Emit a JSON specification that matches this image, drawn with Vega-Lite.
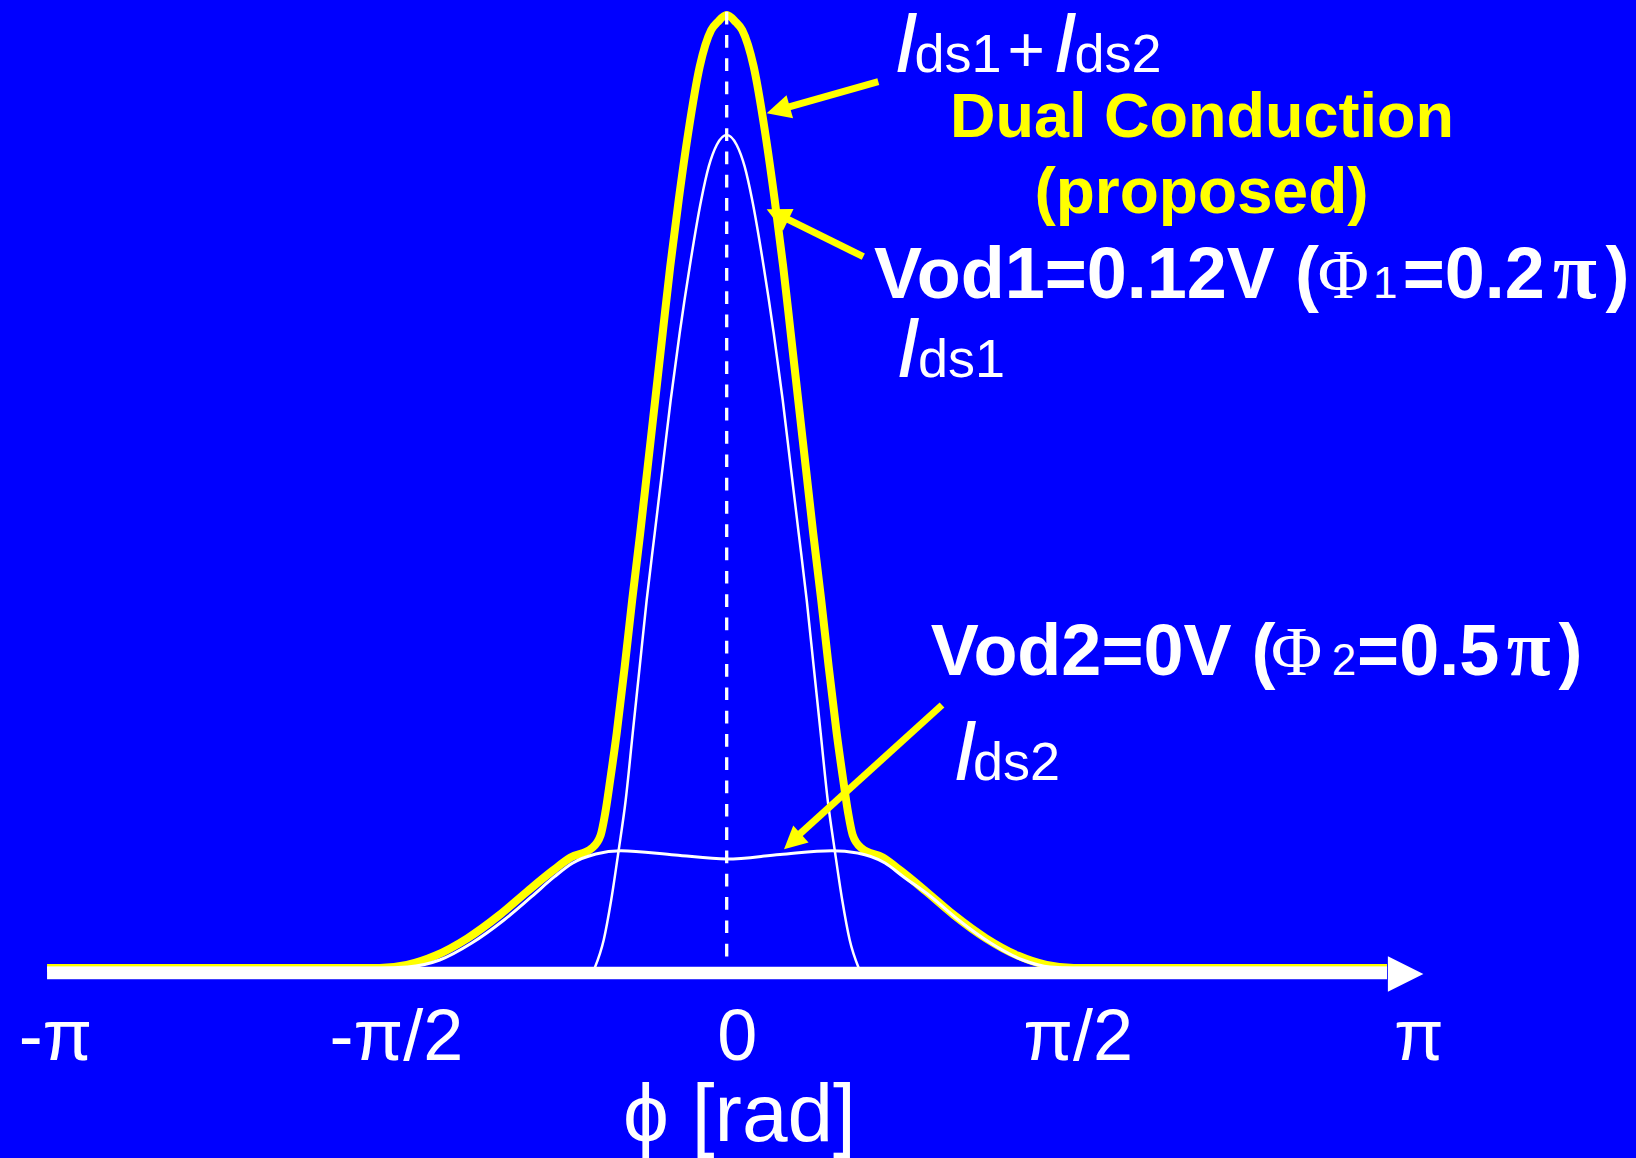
{
  "$schema": "https://vega.github.io/schema/vega-lite/v6.json",
  "width": 1636,
  "height": 1158,
  "autosize": {"type": "none"},
  "padding": 0,
  "background": "#0000ff",
  "config": {"view": {"stroke": null}},
  "datasets": {
    "curves": [
      {"series": "total", "x": -3.132, "y": 0},
      {"series": "total", "x": -1.6, "y": 0},
      {"series": "total", "x": -1.474, "y": 0.03},
      {"series": "total", "x": -1.344, "y": 0.122},
      {"series": "total", "x": -1.195, "y": 0.297},
      {"series": "total", "x": -1.047, "y": 0.53},
      {"series": "total", "x": -0.9205, "y": 0.763},
      {"series": "total", "x": -0.8039, "y": 0.97},
      {"series": "total", "x": -0.7194, "y": 1.105},
      {"series": "total", "x": -0.6221, "y": 1.197},
      {"series": "total", "x": -0.5806, "y": 1.33},
      {"series": "total", "x": -0.5599, "y": 1.547},
      {"series": "total", "x": -0.5369, "y": 1.88},
      {"series": "total", "x": -0.5069, "y": 2.347},
      {"series": "total", "x": -0.47, "y": 3.013},
      {"series": "total", "x": -0.4355, "y": 3.68},
      {"series": "total", "x": -0.3986, "y": 4.347},
      {"series": "total", "x": -0.3641, "y": 5.013},
      {"series": "total", "x": -0.3295, "y": 5.68},
      {"series": "total", "x": -0.2949, "y": 6.35},
      {"series": "total", "x": -0.2604, "y": 7.013},
      {"series": "total", "x": -0.2212, "y": 7.68},
      {"series": "total", "x": -0.1774, "y": 8.35},
      {"series": "total", "x": -0.1244, "y": 9.013},
      {"series": "total", "x": -0.0714, "y": 9.38},
      {"series": "total", "x": -0.0415, "y": 9.46},
      {"series": "total", "x": 0, "y": 9.53},
      {"series": "total", "x": 0.0415, "y": 9.46},
      {"series": "total", "x": 0.0714, "y": 9.38},
      {"series": "total", "x": 0.1244, "y": 9.013},
      {"series": "total", "x": 0.1774, "y": 8.35},
      {"series": "total", "x": 0.2212, "y": 7.68},
      {"series": "total", "x": 0.2604, "y": 7.013},
      {"series": "total", "x": 0.2949, "y": 6.35},
      {"series": "total", "x": 0.3295, "y": 5.68},
      {"series": "total", "x": 0.3641, "y": 5.013},
      {"series": "total", "x": 0.3986, "y": 4.347},
      {"series": "total", "x": 0.4355, "y": 3.68},
      {"series": "total", "x": 0.47, "y": 3.013},
      {"series": "total", "x": 0.5069, "y": 2.347},
      {"series": "total", "x": 0.5369, "y": 1.88},
      {"series": "total", "x": 0.5599, "y": 1.547},
      {"series": "total", "x": 0.5806, "y": 1.33},
      {"series": "total", "x": 0.6221, "y": 1.197},
      {"series": "total", "x": 0.7194, "y": 1.105},
      {"series": "total", "x": 0.8039, "y": 0.97},
      {"series": "total", "x": 0.9205, "y": 0.763},
      {"series": "total", "x": 1.047, "y": 0.53},
      {"series": "total", "x": 1.195, "y": 0.297},
      {"series": "total", "x": 1.344, "y": 0.122},
      {"series": "total", "x": 1.474, "y": 0.03},
      {"series": "total", "x": 1.6, "y": 0},
      {"series": "total", "x": 3.043, "y": 0},

      {"series": "ids1", "x": -0.6083, "y": 0},
      {"series": "ids1", "x": -0.5668, "y": 0.28},
      {"series": "ids1", "x": -0.5323, "y": 0.68},
      {"series": "ids1", "x": -0.4977, "y": 1.18},
      {"series": "ids1", "x": -0.4654, "y": 1.68},
      {"series": "ids1", "x": -0.4332, "y": 2.347},
      {"series": "ids1", "x": -0.4009, "y": 3.013},
      {"series": "ids1", "x": -0.3687, "y": 3.68},
      {"series": "ids1", "x": -0.3318, "y": 4.347},
      {"series": "ids1", "x": -0.2949, "y": 5.013},
      {"series": "ids1", "x": -0.2581, "y": 5.68},
      {"series": "ids1", "x": -0.2166, "y": 6.35},
      {"series": "ids1", "x": -0.1705, "y": 7.013},
      {"series": "ids1", "x": -0.1175, "y": 7.68},
      {"series": "ids1", "x": -0.0829, "y": 8.013},
      {"series": "ids1", "x": -0.0461, "y": 8.23},
      {"series": "ids1", "x": 0, "y": 8.33},
      {"series": "ids1", "x": 0.0461, "y": 8.23},
      {"series": "ids1", "x": 0.0829, "y": 8.013},
      {"series": "ids1", "x": 0.1175, "y": 7.68},
      {"series": "ids1", "x": 0.1705, "y": 7.013},
      {"series": "ids1", "x": 0.2166, "y": 6.35},
      {"series": "ids1", "x": 0.2581, "y": 5.68},
      {"series": "ids1", "x": 0.2949, "y": 5.013},
      {"series": "ids1", "x": 0.3318, "y": 4.347},
      {"series": "ids1", "x": 0.3687, "y": 3.68},
      {"series": "ids1", "x": 0.4009, "y": 3.013},
      {"series": "ids1", "x": 0.4332, "y": 2.347},
      {"series": "ids1", "x": 0.4654, "y": 1.68},
      {"series": "ids1", "x": 0.4977, "y": 1.18},
      {"series": "ids1", "x": 0.5323, "y": 0.68},
      {"series": "ids1", "x": 0.5668, "y": 0.28},
      {"series": "ids1", "x": 0.6083, "y": 0},

      {"series": "ids2", "x": -3.132, "y": 0},
      {"series": "ids2", "x": -1.6, "y": 0},
      {"series": "ids2", "x": -1.471, "y": 0.01},
      {"series": "ids2", "x": -1.3226, "y": 0.08},
      {"series": "ids2", "x": -1.1747, "y": 0.25},
      {"series": "ids2", "x": -1.0263, "y": 0.48},
      {"series": "ids2", "x": -0.8995, "y": 0.713},
      {"series": "ids2", "x": -0.7935, "y": 0.913},
      {"series": "ids2", "x": -0.7092, "y": 1.05},
      {"series": "ids2", "x": -0.6032, "y": 1.14},
      {"series": "ids2", "x": -0.4871, "y": 1.173},
      {"series": "ids2", "x": -0.2382, "y": 1.13},
      {"series": "ids2", "x": 0, "y": 1.09},
      {"series": "ids2", "x": 0.2456, "y": 1.135},
      {"series": "ids2", "x": 0.4853, "y": 1.173},
      {"series": "ids2", "x": 0.6028, "y": 1.15},
      {"series": "ids2", "x": 0.7295, "y": 1.05},
      {"series": "ids2", "x": 0.8143, "y": 0.913},
      {"series": "ids2", "x": 0.9415, "y": 0.713},
      {"series": "ids2", "x": 1.0682, "y": 0.48},
      {"series": "ids2", "x": 1.2161, "y": 0.25},
      {"series": "ids2", "x": 1.3645, "y": 0.08},
      {"series": "ids2", "x": 1.4899, "y": 0.01},
      {"series": "ids2", "x": 1.6, "y": 0},
      {"series": "ids2", "x": 3.043, "y": 0}
    ],
    "segments": [
      {"name": "zero", "x": 0, "y": 9.563, "x2": 0, "y2": 0},
      {"name": "axis", "x": -3.132, "y": -0.05, "x2": 3.043, "y2": -0.05},
      {"name": "a1", "x": 0.6986, "y": 8.863, "x2": 0.2553, "y2": 8.591},
      {"name": "a2", "x": 0.6295, "y": 7.113, "x2": 0.2544, "y2": 7.517},
      {"name": "a3", "x": 0.9922, "y": 2.63, "x2": 0.3106, "y2": 1.288}
    ],
    "heads": [
      {"name": "a1", "x": 0.1843, "y": 8.547},
      {"name": "a2", "x": 0.1843, "y": 7.587},
      {"name": "a3", "x": 0.2641, "y": 1.187},
      {"name": "axis", "x": 3.2106, "y": -0.06}
    ],
    "labels": [
      {"kind": "I", "text": "I", "x": 0.771, "y": 8.963},
      {"kind": "sub", "text": "ds1", "x": 0.8654, "y": 8.963},
      {"kind": "plus", "text": "+", "x": 1.294, "y": 8.963},
      {"kind": "I", "text": "I", "x": 1.5037, "y": 8.963},
      {"kind": "sub", "text": "ds2", "x": 1.6028, "y": 8.963},
      {"kind": "I", "text": "I", "x": 0.7802, "y": 5.913},
      {"kind": "sub", "text": "ds1", "x": 0.8816, "y": 5.913},
      {"kind": "I", "text": "I", "x": 1.0429, "y": 1.88},
      {"kind": "sub", "text": "ds2", "x": 1.135, "y": 1.88},
      {"kind": "vod", "text": "Vod1=0.12V (", "x": 0.6788, "y": 6.7},
      {"kind": "phi", "text": "Φ", "x": 2.8415, "y": 6.7},
      {"kind": "subn", "text": "1", "x": 3.035, "y": 6.7},
      {"kind": "vod", "text": "=0.2", "x": 3.115, "y": 6.7},
      {"kind": "pi", "text": "π", "x": 3.909, "y": 6.7},
      {"kind": "vod", "text": ")", "x": 4.05, "y": 6.7},
      {"kind": "vod", "text": "Vod2=0V (", "x": 0.9401, "y": 2.93},
      {"kind": "phi", "text": "Φ", "x": 2.6267, "y": 2.93},
      {"kind": "subn", "text": "2", "x": 2.845, "y": 2.93},
      {"kind": "vod", "text": "=0.5", "x": 2.905, "y": 2.93},
      {"kind": "pi", "text": "π", "x": 3.696, "y": 2.93},
      {"kind": "vod", "text": ")", "x": 3.833, "y": 2.93},
      {"kind": "dual", "text": "Dual Conduction", "x": 2.1903, "y": 8.31},
      {"kind": "prop", "text": "(proposed)", "x": 2.188, "y": 7.55}
    ]
  },
  "encoding": {
    "x": {
      "field": "x",
      "type": "quantitative",
      "scale": {"domain": [-3.34885, 4.19032], "nice": false, "zero": false},
      "axis": {
        "values": [-3.14159265, -1.57079633, 0, 1.57079633, 3.14159265],
        "labelExpr": "datum.value < -3 ? '-π' : datum.value < -1 ? '-π/2' : datum.value < 1 ? '0' : datum.value < 3 ? 'π/2' : 'π'",
        "domain": false,
        "ticks": false,
        "tickSize": 0,
        "grid": false,
        "offset": -185,
        "labelPadding": 86,
        "labelBaseline": "alphabetic",
        "labelFont": "Liberation Sans",
        "labelFontSize": 72,
        "labelColor": "#ffffff",
        "labelOffset": 10,
        "labelFlush": false,
        "labelOverlap": false,
        "labelBound": false,
        "title": "ϕ [rad]",
        "titleFont": "Liberation Sans",
        "titleFontSize": 82,
        "titleFontWeight": "normal",
        "titleColor": "#ffffff",
        "titleX": 739,
        "titleY": 167,
        "titleBaseline": "alphabetic",
        "titleAlign": "center"
      }
    },
    "y": {
      "field": "y",
      "type": "quantitative",
      "scale": {"domain": [-1.9, 9.68], "nice": false, "zero": false},
      "axis": null
    }
  },
  "layer": [
    {
      "data": {"name": "curves"},
      "transform": [{"filter": "datum.series === 'total'"}],
      "mark": {"type": "line", "color": "#ffff00", "strokeWidth": 8, "interpolate": "monotone", "strokeJoin": "round"}
    },
    {
      "data": {"name": "curves"},
      "transform": [{"filter": "datum.series === 'ids2'"}],
      "mark": {"type": "line", "color": "#ffffff", "strokeWidth": 3, "interpolate": "monotone"}
    },
    {
      "data": {"name": "curves"},
      "transform": [{"filter": "datum.series === 'ids1'"}],
      "mark": {"type": "line", "color": "#ffffff", "strokeWidth": 2.5, "interpolate": "monotone"}
    },
    {
      "data": {"name": "segments"},
      "transform": [{"filter": "datum.name === 'zero'"}],
      "mark": {"type": "rule", "color": "#ffffff", "strokeWidth": 3.3, "strokeDash": [12.7, 10.6]},
      "encoding": {"x2": {"field": "x2"}, "y2": {"field": "y2"}}
    },
    {
      "data": {"name": "segments"},
      "transform": [{"filter": "datum.name === 'axis'"}],
      "mark": {"type": "rule", "color": "#ffffff", "strokeWidth": 12.5},
      "encoding": {"x2": {"field": "x2"}, "y2": {"field": "y2"}}
    },
    {
      "data": {"name": "segments"},
      "transform": [{"filter": "datum.name !== 'axis' && datum.name !== 'zero'"}],
      "mark": {"type": "rule", "color": "#ffff00", "strokeWidth": 7},
      "encoding": {"x2": {"field": "x2"}, "y2": {"field": "y2"}}
    },
    {
      "data": {"name": "heads"},
      "transform": [{"filter": "datum.name === 'a1'"}],
      "mark": {"type": "point", "shape": "M0,0L-2,-1L-2,1Z", "filled": true, "color": "#ffff00", "opacity": 1, "size": 576, "angle": 164.2, "strokeWidth": 0}
    },
    {
      "data": {"name": "heads"},
      "transform": [{"filter": "datum.name === 'a2'"}],
      "mark": {"type": "point", "shape": "M0,0L-2,-1L-2,1Z", "filled": true, "color": "#ffff00", "opacity": 1, "size": 576, "angle": 206.1, "strokeWidth": 0}
    },
    {
      "data": {"name": "heads"},
      "transform": [{"filter": "datum.name === 'a3'"}],
      "mark": {"type": "point", "shape": "M0,0L-2,-1L-2,1Z", "filled": true, "color": "#ffff00", "opacity": 1, "size": 520, "angle": 137.8, "strokeWidth": 0}
    },
    {
      "data": {"name": "heads"},
      "transform": [{"filter": "datum.name === 'axis'"}],
      "mark": {"type": "point", "shape": "M0,0L-2,-1L-2,1Z", "filled": true, "color": "#ffffff", "opacity": 1, "size": 1260, "angle": 0, "strokeWidth": 0}
    },
    {
      "data": {"name": "labels"},
      "transform": [{"filter": "datum.kind === 'I'"}],
      "mark": {"type": "text", "font": "Liberation Sans", "fontStyle": "italic", "fontSize": 86, "color": "#ffffff", "align": "left", "baseline": "alphabetic"},
      "encoding": {"text": {"field": "text"}}
    },
    {
      "data": {"name": "labels"},
      "transform": [{"filter": "datum.kind === 'sub'"}],
      "mark": {"type": "text", "font": "Liberation Sans", "fontSize": 54, "color": "#ffffff", "align": "left", "baseline": "alphabetic"},
      "encoding": {"text": {"field": "text"}}
    },
    {
      "data": {"name": "labels"},
      "transform": [{"filter": "datum.kind === 'plus'"}],
      "mark": {"type": "text", "font": "Liberation Sans", "fontSize": 64, "color": "#ffffff", "align": "left", "baseline": "alphabetic"},
      "encoding": {"text": {"field": "text"}}
    },
    {
      "data": {"name": "labels"},
      "transform": [{"filter": "datum.kind === 'vod'"}],
      "mark": {"type": "text", "font": "Liberation Sans", "fontWeight": "bold", "fontSize": 72, "color": "#ffffff", "align": "left", "baseline": "alphabetic"},
      "encoding": {"text": {"field": "text"}}
    },
    {
      "data": {"name": "labels"},
      "transform": [{"filter": "datum.kind === 'phi'"}],
      "mark": {"type": "text", "font": "Liberation Serif", "fontSize": 70, "color": "#ffffff", "align": "center", "baseline": "alphabetic"},
      "encoding": {"text": {"field": "text"}}
    },
    {
      "data": {"name": "labels"},
      "transform": [{"filter": "datum.kind === 'subn'"}],
      "mark": {"type": "text", "font": "Liberation Sans", "fontSize": 44, "color": "#ffffff", "align": "center", "baseline": "alphabetic"},
      "encoding": {"text": {"field": "text"}}
    },
    {
      "data": {"name": "labels"},
      "transform": [{"filter": "datum.kind === 'pi'"}],
      "mark": {"type": "text", "font": "Liberation Serif", "fontWeight": "bold", "fontSize": 80, "color": "#ffffff", "align": "center", "baseline": "alphabetic"},
      "encoding": {"text": {"field": "text"}}
    },
    {
      "data": {"name": "labels"},
      "transform": [{"filter": "datum.kind === 'dual'"}],
      "mark": {"type": "text", "font": "Liberation Sans", "fontWeight": "bold", "fontSize": 63, "color": "#ffff00", "align": "center", "baseline": "alphabetic"},
      "encoding": {"text": {"field": "text"}}
    },
    {
      "data": {"name": "labels"},
      "transform": [{"filter": "datum.kind === 'prop'"}],
      "mark": {"type": "text", "font": "Liberation Sans", "fontWeight": "bold", "fontSize": 64, "color": "#ffff00", "align": "center", "baseline": "alphabetic"},
      "encoding": {"text": {"field": "text"}}
    }
  ]
}
